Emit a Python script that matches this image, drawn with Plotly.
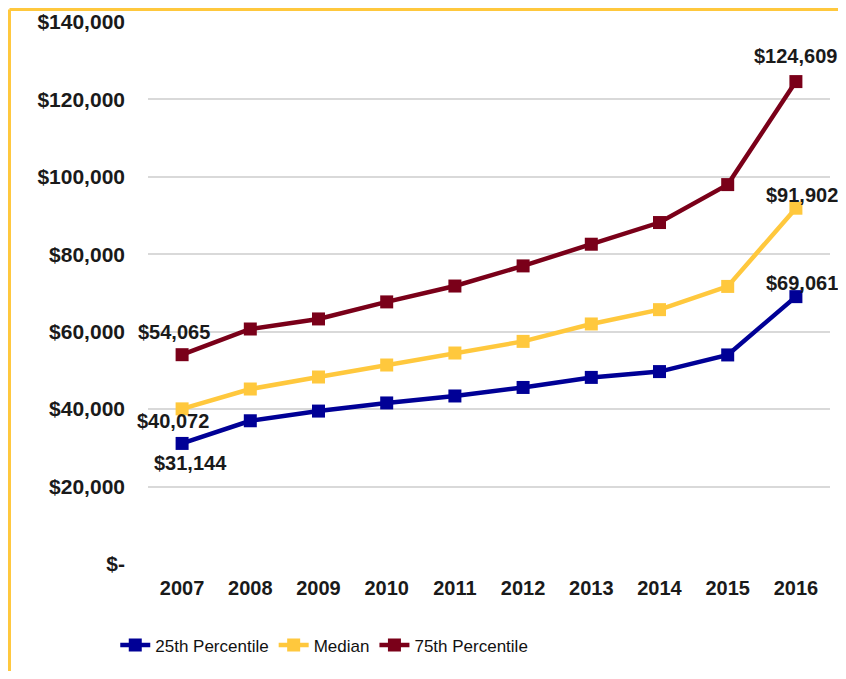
import plotly.graph_objects as go

years = [2007, 2008, 2009, 2010, 2011, 2012, 2013, 2014, 2015, 2016]
p25 = [31144, 37000, 39500, 41600, 43400, 45600, 48200, 49700, 54000, 69061]
median = [40072, 45200, 48300, 51400, 54500, 57500, 62000, 65700, 71700, 91902]
p75 = [54065, 60700, 63300, 67700, 71800, 77000, 82600, 88200, 98000, 124609]

series_names = ["25th Percentile", "Median", "75th Percentile"]
series_colors = ["#000096", "#FFC83D", "#7A0019"]

y_tickvals = [0, 20000, 40000, 60000, 80000, 100000, 120000, 140000]
y_ticktext = ["$-", "$20,000", "$40,000", "$60,000", "$80,000", "$100,000", "$120,000", "$140,000"]

fig = go.Figure()
for name, vals, col in zip(series_names, [p25, median, p75], series_colors):
    fig.add_trace(go.Scatter(
        x=years, y=vals, name=name, mode="lines+markers",
        line=dict(color=col, width=4.5),
        marker=dict(symbol="square", size=13, color=col),
    ))

# data labels at first and last points
label_font = dict(family="Liberation Sans, Arial, sans-serif", size=20, color="#1a1a1a")
first_shifts = [(8, -20), (-9, -12), (-8, 23)]
last_shifts = [(6, 14), (6, 13), (0, 26)]
for vals, fs, ls in zip([p25, median, p75], first_shifts, last_shifts):
    fig.add_annotation(x=years[0], y=vals[0], text="<b>$%s</b>" % format(vals[0], ","),
                       showarrow=False, xshift=fs[0], yshift=fs[1], font=label_font)
    fig.add_annotation(x=years[-1], y=vals[-1], text="<b>$%s</b>" % format(vals[-1], ","),
                       showarrow=False, xshift=ls[0], yshift=ls[1], font=label_font)

# yellow frame (top and left)
fig.add_shape(type="line", xref="paper", yref="paper", x0=-0.2031, x1=1.05, y0=1.0231, y1=1.0231,
              line=dict(color="#FFC83D", width=3))
fig.add_shape(type="line", xref="paper", yref="paper", x0=-0.2031, x1=-0.2031, y0=-0.23, y1=1.0231,
              line=dict(color="#FFC83D", width=3))

fig.update_layout(
    width=838, height=663,
    margin=dict(l=140, r=16, t=14, b=107, autoexpand=False),
    paper_bgcolor="white", plot_bgcolor="white",
    font=dict(family="Liberation Sans, Arial, sans-serif", color="#1a1a1a"),
    showlegend=True,
    legend=dict(orientation="h", x=-0.048, y=-0.117, xanchor="left", yanchor="top",
                font=dict(family="Liberation Sans, Arial, sans-serif", size=17, color="#111"),
                itemwidth=30, tracegroupgap=0),
)
fig.update_xaxes(
    range=[2006.5, 2016.5], tickvals=years, ticktext=[str(y) for y in years],
    showgrid=False, showline=False, zeroline=False, automargin=False,
    tickfont=dict(size=20, family="Liberation Sans, Arial, sans-serif", weight="bold"),
    ticklabelstandoff=10,
)
fig.update_yaxes(
    range=[0, 140000], tickvals=y_tickvals, ticktext=y_ticktext,
    showgrid=True, gridcolor="#D9D9D9", gridwidth=1.5, zeroline=False, showline=False, automargin=False,
    tickfont=dict(size=21, family="Liberation Sans, Arial, sans-serif", weight="bold"),
    ticklabelstandoff=22,
)

fig.write_html("out.html")
